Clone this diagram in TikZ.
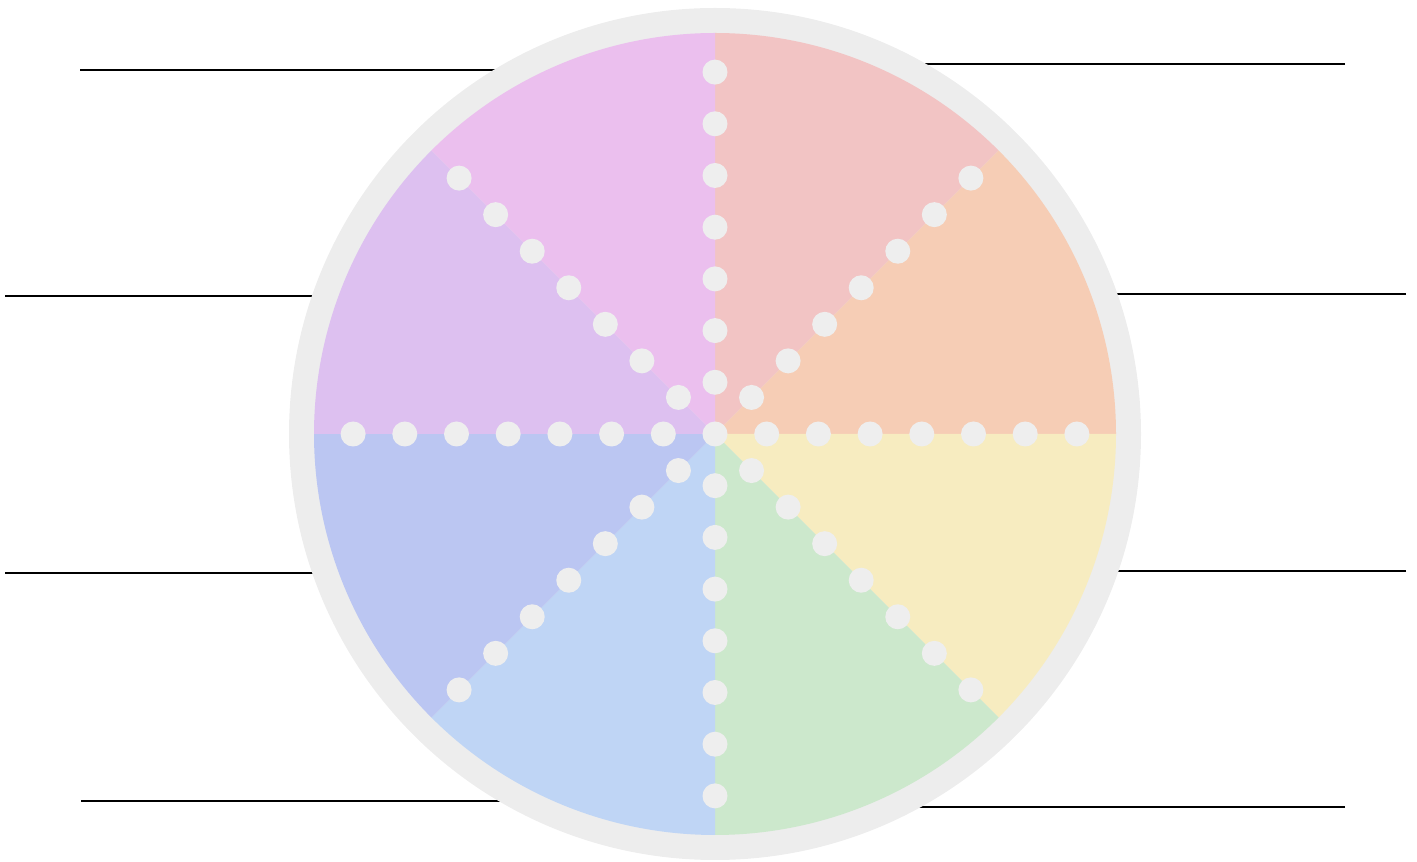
\documentclass[tikz,border=0pt]{standalone}
\usepackage{tikz}
\usetikzlibrary{calc}
\definecolor{ringgrey}{HTML}{EDEDED}
\definecolor{dotgrey}{HTML}{EEEEEE}
\definecolor{secrose}{HTML}{F2C4C4}
\definecolor{secpeach}{HTML}{F6CDB5}
\definecolor{secyellow}{HTML}{F7ECC0}
\definecolor{secgreen}{HTML}{CCE8CC}
\definecolor{secsky}{HTML}{BFD5F5}
\definecolor{secperi}{HTML}{BBC6F2}
\definecolor{seclilac}{HTML}{DDC0F0}
\definecolor{secorchid}{HTML}{EBBFEE}

\begin{document}
\begin{tikzpicture}[
        x=0.02cm, y=0.02cm,
        leader/.style = {draw=black, line width=1.1pt},
        ring/.style = {fill=ringgrey},
        spot/.style = {fill=dotgrey}
    ]
        \useasboundingbox (0,0) rectangle (1417,862);

        % Centre
        \coordinate (c) at (715,428);

        % Leader line ends
        \coordinate (l1) at (80,792);
        \coordinate (l2) at (5,566);
        \coordinate (l3) at (5,289);
        \coordinate (l4) at (81,61);
        \coordinate (r1) at (1345,798);
        \coordinate (r2) at (1406,568);
        \coordinate (r3) at (1406,291);
        \coordinate (r4) at (1345,55);

        % Leader lines (run under the wheel)
        \foreach \p in {l1,l2,l3,l4,r1,r2,r3,r4}
            \draw [leader] (\p) -- (\p -| c);

        % Outer ring
        \fill [ring] (c) circle (426);

        % Sectors
        \foreach \a/\col in {45/secrose, 0/secpeach, -45/secyellow, -90/secgreen,
                             -135/secsky, -180/secperi, 135/seclilac, 90/secorchid}
            \fill [\col] (c) -- ++(\a:401) arc (\a:\a+45:401) -- cycle;

        % Dotted spokes
        \fill [spot] (c) circle (12.5);
        \foreach \a in {0,45,...,315}
            \foreach \k in {1,...,7}
                \fill [spot] ($(c)+(\a:\k*51.7)$) circle (12.5);

    \end{tikzpicture}
\end{document}
